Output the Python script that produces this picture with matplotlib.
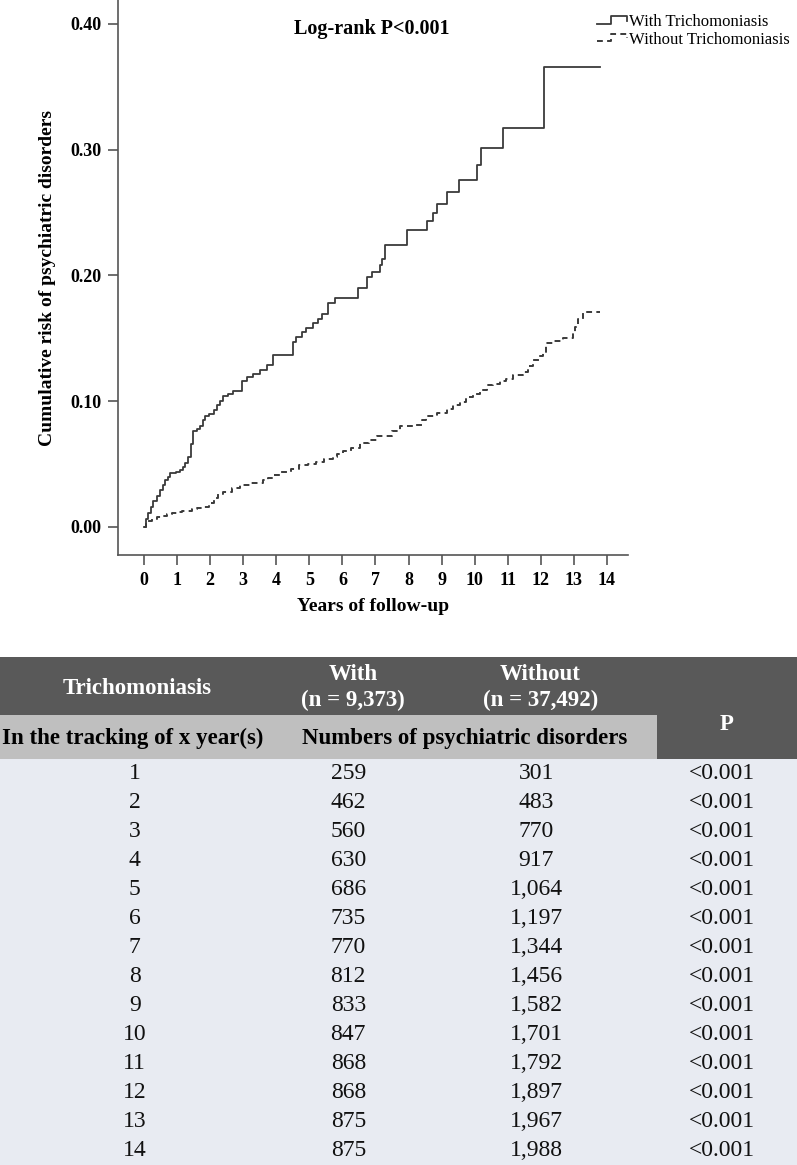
import numpy as np
import matplotlib
matplotlib.use("Agg")
import matplotlib.pyplot as plt
from matplotlib.lines import Line2D
from matplotlib.patches import Rectangle
from matplotlib.legend_handler import HandlerLine2D

plt.rcParams['font.family'] = ['Liberation Serif', 'DejaVu Serif']

# cumulative risk curves
with_t = [0, 0.06, 0.13, 0.2, 0.28, 0.38, 0.48, 0.56, 0.64, 0.72, 0.79, 0.95, 1.09, 1.17, 1.24, 1.34,
          1.42, 1.49, 1.6, 1.69, 1.78, 1.84, 1.95, 2.1, 2.2, 2.3, 2.4, 2.55, 2.7, 2.95, 3.1, 3.3,
          3.5, 3.71, 3.91, 4.51, 4.6, 4.77, 4.9, 5.12, 5.25, 5.37, 5.57, 5.77, 6.48, 6.74, 6.88,
          7.13, 7.2, 7.29, 7.94, 8.55, 8.75, 8.85, 9.15, 9.53, 10.06, 10.2, 10.87, 12.1, 13.8]
with_r = [0, 0.006, 0.011, 0.016, 0.021, 0.025, 0.029, 0.033, 0.037, 0.040, 0.043, 0.044, 0.045, 0.048,
          0.051, 0.056, 0.066, 0.076, 0.078, 0.080, 0.085, 0.088, 0.090, 0.093, 0.097, 0.100, 0.104,
          0.106, 0.108, 0.116, 0.119, 0.122, 0.125, 0.129, 0.137, 0.147, 0.151, 0.155, 0.158, 0.162,
          0.165, 0.169, 0.178, 0.182, 0.190, 0.199, 0.203, 0.208, 0.213, 0.224, 0.236, 0.243, 0.250,
          0.257, 0.266, 0.276, 0.288, 0.301, 0.317, 0.366, 0.366]

without_t = [0, 0.05, 0.1, 0.25, 0.4, 0.55, 0.7, 0.85, 1.0, 1.15, 1.3, 1.45, 1.6, 1.8, 1.95, 2.1,
             2.25, 2.4, 2.65, 2.9, 3.2, 3.6, 3.75, 3.9, 4.15, 4.45, 4.7, 4.95, 5.2, 5.45, 5.72, 5.85,
             6.02, 6.25, 6.53, 6.8, 7.04, 7.34, 7.5, 7.74, 8.0, 8.24, 8.4, 8.54, 8.85, 9.15, 9.35,
             9.55, 9.75, 9.96, 10.15, 10.36, 10.55, 10.76, 10.95, 11.17, 11.47, 11.6, 11.77, 11.95,
             12.08, 12.17, 12.4, 12.68, 12.98, 13.05, 13.13, 13.28, 13.8]
without_r = [0, 0.003, 0.005, 0.0065, 0.008, 0.009, 0.010, 0.011, 0.012, 0.0125, 0.013, 0.014, 0.015,
             0.016, 0.019, 0.023, 0.026, 0.028, 0.031, 0.033, 0.035, 0.037, 0.039, 0.041, 0.044, 0.046,
             0.049, 0.050, 0.052, 0.054, 0.056, 0.058, 0.060, 0.063, 0.0665, 0.069, 0.072, 0.072,
             0.076, 0.080, 0.080, 0.081, 0.085, 0.088, 0.091, 0.094, 0.097, 0.0997, 0.103, 0.106,
             0.109, 0.113, 0.114, 0.1157, 0.118, 0.121, 0.1236, 0.128, 0.133, 0.136, 0.138, 0.146,
             0.148, 0.150, 0.154, 0.159, 0.165, 0.1713, 0.1713]

x_ticks = list(range(0, 15))
y_ticks = [0.0, 0.1, 0.2, 0.3, 0.4]

# table contents
years = list(range(1, 15))
n_with = ['259', '462', '560', '630', '686', '735', '770', '812', '833', '847', '868', '868', '875', '875']
n_without = ['301', '483', '770', '917', '1,064', '1,197', '1,344', '1,456', '1,582', '1,701',
             '1,792', '1,897', '1,967', '1,988']
p_vals = ['<0.001'] * 14


class StepHandler(HandlerLine2D):
    # SPSS style step glyph in the legend
    def create_artists(self, legend, orig_handle, xdescent, ydescent, width, height, fontsize, trans):
        xs = np.array([0, 0.45, 0.45, 0.95, 0.95]) * width - xdescent
        ys = np.array([0.2, 0.2, 0.85, 0.85, 0.45]) * height - ydescent
        line = Line2D(xs, ys)
        self.update_prop(line, orig_handle, legend)
        line.set_transform(trans)
        return [line]


fig = plt.figure(figsize=(7.97, 11.65), dpi=100)
W, H = 797, 1165

ax = fig.add_axes([118 / W, 1 - 555 / H, (628 - 118) / W, 555 / H])
curve_col = '#3a3a3a'
l1, = ax.step(with_t, with_r, where='post', color=curve_col, lw=1.3)
l2, = ax.step(without_t, without_r, where='post', color=curve_col, lw=1.4, dashes=(3, 2.2))

ax.set_xlim(-0.79, 14.64)
ax.set_ylim(-0.0223, 0.419)
ax.set_xticks(x_ticks)
ax.set_xticklabels([str(v) for v in x_ticks])
ax.set_yticks(y_ticks)
ax.set_yticklabels(['%.2f' % v for v in y_ticks])
for s in ['top', 'right']:
    ax.spines[s].set_visible(False)
for s in ['left', 'bottom']:
    ax.spines[s].set_color('#555555')
    ax.spines[s].set_linewidth(1.2)
ax.tick_params(colors='#555555', width=1.2, length=7, labelcolor='black', labelsize=13, pad=5)
for lab in ax.get_xticklabels() + ax.get_yticklabels():
    lab.set_fontweight('bold')

ax.set_xlabel('Years of follow-up', fontsize=14, fontweight='bold', labelpad=7)
ax.set_ylabel('Cumulative risk of psychiatric disorders', fontsize=14, fontweight='bold', labelpad=10)
ax.text(0.497, 0.948, 'Log-rank P<0.001', transform=ax.transAxes, ha='center', va='center',
        fontsize=14.5, fontweight='bold')

fig.legend([l1, l2], ['With Trichomoniasis', 'Without Trichomoniasis'],
           handler_map={l1: StepHandler(), l2: StepHandler()},
           loc='upper left', bbox_to_anchor=(597 / W, 1 - 14 / H), frameon=False,
           fontsize=12, handlelength=1.9, handletextpad=0.0, labelspacing=0.1,
           borderpad=0, borderaxespad=0)

# table below the chart
tab = fig.add_axes([0, 0, 1, 508 / H])
n_rows = len(years)
top_h, sub_h = 2.0, 1.5
body_top = top_h + sub_h
tab.set_xlim(0, 1)
tab.set_ylim(body_top + n_rows, 0)
tab.axis('off')

p_left = 657 / W
dark, light, body = '#595959', '#bfbfbf', '#e8ebf2'
tab.add_patch(Rectangle((0, body_top), 1, n_rows, color=body, lw=0))
tab.add_patch(Rectangle((0, 0), 1, top_h, color=dark, lw=0))
tab.add_patch(Rectangle((p_left, 0), 1 - p_left, body_top, color=dark, lw=0))
tab.add_patch(Rectangle((0, top_h), p_left, sub_h, color=light, lw=0))

col_x = [0.169, 0.437, 0.673, 0.906]
hfs = 16.5
tab.text(0.172, 1.07, 'Trichomoniasis', ha='center', va='center', color='white', fontsize=hfs, fontweight='bold')
tab.text(0.443, 1.05, 'With\n(n = 9,373)', ha='center', va='center', color='white', fontsize=hfs,
         fontweight='bold', linespacing=1.25)
tab.text(0.678, 1.05, 'Without\n(n = 37,492)', ha='center', va='center', color='white', fontsize=hfs,
         fontweight='bold', linespacing=1.25)
tab.text(0.912, 2.34, 'P', ha='center', va='center', color='white', fontsize=hfs, fontweight='bold')
tab.text(0.167, 2.82, 'In the tracking of x year(s)', ha='center', va='center', color='black',
         fontsize=hfs, fontweight='bold')
tab.text(0.583, 2.82, 'Numbers of psychiatric disorders', ha='center', va='center', color='black',
         fontsize=hfs, fontweight='bold')

for i in range(n_rows):
    y = body_top + i + 0.5
    row = [str(years[i]), n_with[i], n_without[i], p_vals[i]]
    for x, txt in zip(col_x, row):
        tab.text(x, y, txt, ha='center', va='center', fontsize=17, color='#111111')

fig.savefig('out.png', dpi=100)
